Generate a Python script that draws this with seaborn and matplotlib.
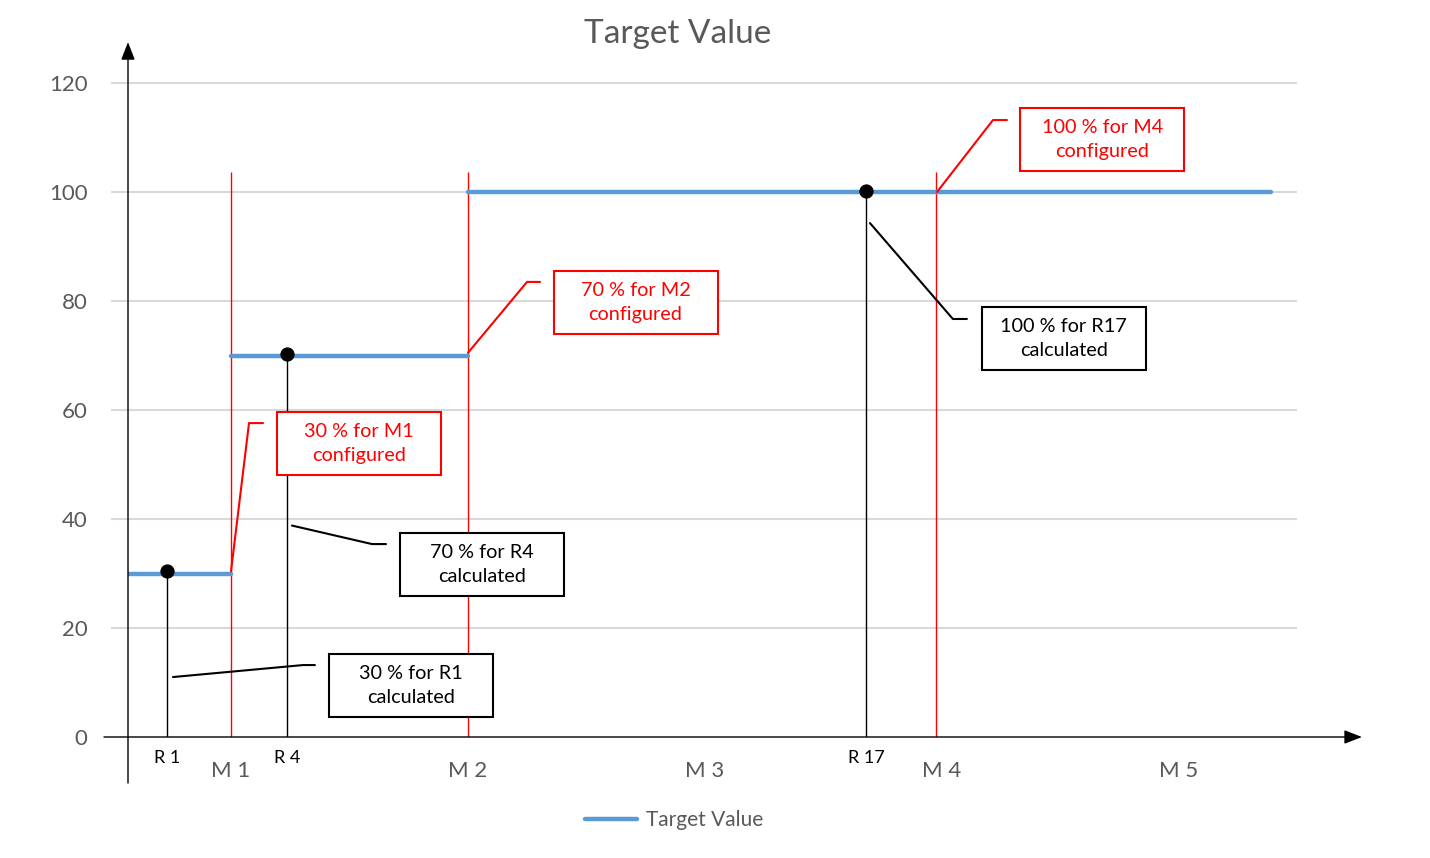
import matplotlib
matplotlib.use("Agg")
import matplotlib.pyplot as plt
from matplotlib.patches import Rectangle
from matplotlib.lines import Line2D
import pandas as pd
import seaborn as sns

# ---------------- data ----------------
milestones = ["M 1", "M 2", "M 3", "M 4", "M 5"]
milestone_pos = [1, 2, 3, 4, 5]
segment_edges = [0.565, 1.0, 2.0, 5.39]      # start, M1, M2, end
segment_values = [30, 70, 100]
config_lines = [1.0, 2.0, 3.975]              # M1, M2, M4 configuration points
readings = ["R 1", "R 4", "R 17"]
reading_pos = [0.73, 1.236, 3.679]
reading_values = [30.5, 70.3, 100.2]
yticks = [0, 20, 40, 60, 80, 100, 120]

# annotations: text, colour, box centre, leader points
notes = [
    ("30 % for M1\nconfigured", "red", (1.540, 53.85), [(1.0, 30.4), (1.076, 57.6), (1.135, 57.6)]),
    ("70 % for M2\nconfigured", "red", (2.707, 79.8), [(2.0, 70.5), (2.249, 83.5), (2.304, 83.5)]),
    ("100 % for M4\nconfigured", "red", (4.677, 109.6), [(3.979, 100.0), (4.215, 113.2), (4.274, 113.2)]),
    ("30 % for R1\ncalculated", "black", (1.759, 9.54), [(0.755, 11.0), (1.304, 13.2), (1.354, 13.2)]),
    ("70 % for R4\ncalculated", "black", (2.059, 31.7), [(1.257, 38.8), (1.595, 35.4), (1.654, 35.4)]),
    ("100 % for R17\ncalculated", "black", (4.513, 73.1), [(3.696, 94.3), (4.046, 76.7), (4.105, 76.7)]),
]

# ---------------- style ----------------
sns.set_theme(style="white")
plt.rcParams["font.family"] = ["Lato", "DejaVu Sans"]
GRAY = "#595959"
BLUE = "#5B9BD5"

W, H = 1430, 858
fig = plt.figure(figsize=(W / 100, H / 100), dpi=100)
ax = fig.add_axes([128 / W, 1 - 737 / H, (1297 - 128) / W, (737 - 83) / H])
xmin, xmax = 0.5654, 5.4979
ax.set_xlim(xmin, xmax)
ax.set_ylim(0, 120)
for s in ax.spines.values():
    s.set_visible(False)

# grid lines
ax.hlines(yticks[1:], 0.4937, xmax, color="#d9d9d9", lw=1.5, zorder=0, clip_on=False)

# target value: horizontal segments only (no vertical joins)
rows = []
for i, v in enumerate(segment_values):
    rows.append({"seg": i, "x": segment_edges[i], "y": v})
    rows.append({"seg": i, "x": segment_edges[i + 1], "y": v})
seg_df = pd.DataFrame(rows)
sns.lineplot(data=seg_df, x="x", y="y", units="seg", estimator=None, sort=False,
             color=BLUE, lw=3.2, ax=ax, zorder=3, legend=False)

# configuration (red) lines
ax.vlines(config_lines, 0, 103.7, color="red", lw=1.0, zorder=2)
# reading (black) lines
ax.vlines(reading_pos, 0, reading_values, color="black", lw=1.0, zorder=2)
sns.scatterplot(x=reading_pos, y=reading_values, color="black", s=90, ax=ax,
                zorder=5, edgecolor="black", legend=False)

# axes with arrows
for start, end in [((xmin, -8.44), (xmin, 127.5)), ((0.464, 0), (5.772, 0))]:
    ax.annotate("", xy=end, xytext=start, xycoords="data",
                arrowprops=dict(arrowstyle="-|>,head_length=0.9,head_width=0.35", color="black",
                                lw=1.0, mutation_scale=12, shrinkA=0, shrinkB=0),
                annotation_clip=False)

# ticks
ax.set_xlabel("")
ax.set_ylabel("")
ax.set_yticks(yticks)
ax.set_yticklabels([str(v) for v in yticks], color=GRAY, fontsize=16)
ax.tick_params(axis="y", length=0, pad=29)
ax.set_xticks(milestone_pos)
ax.set_xticklabels(milestones, color=GRAY, fontsize=16)
ax.tick_params(axis="x", length=0, pad=17)
for lab, xp in zip(readings, reading_pos):
    ax.text(xp, -3.9, lab, ha="center", va="center", fontsize=13, color="black", clip_on=False)

# annotations
bw, bh = 0.692, 11.56
for txt, col, (cx, cy), pts in notes:
    ax.add_patch(Rectangle((cx - bw / 2, cy - bh / 2), bw, bh, fill=True, facecolor="white",
                           edgecolor=col, lw=1.5, zorder=6, clip_on=False))
    ax.text(cx, cy, txt, ha="center", va="center", color=col, fontsize=14.3,
            linespacing=1.5, zorder=7)
    xs, ys = zip(*pts)
    ax.plot(xs, ys, color=col, lw=1.5, zorder=4, clip_on=False)

# title
fig.text(678 / W, 1 - 34 / H, "Target Value", ha="center", va="center", color=GRAY, fontsize=24)

# legend
handle = Line2D([], [], color=BLUE, lw=3.2)
leg = fig.legend([handle], ["Target Value"], loc="center", bbox_to_anchor=(674 / W, 1 - 820 / H),
                 frameon=False, fontsize=15, handlelength=2.5, handletextpad=0.4)
for t in leg.get_texts():
    t.set_color(GRAY)

fig.savefig("out.png", dpi=100)
